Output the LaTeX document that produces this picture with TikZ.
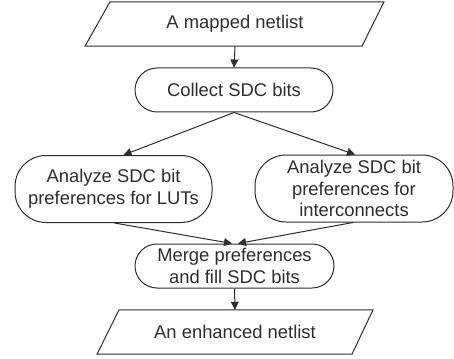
\documentclass[tikz,border=0pt]{standalone}
\usepackage{fontspec}
\setmainfont{Liberation Sans}
\usetikzlibrary{arrows.meta,calc}
\definecolor{ink}{gray}{0.18}
\tikzset{
  txt/.style={font=\fontsize{18.4}{21.7}\selectfont, text=ink, align=center, inner sep=0pt},
  stadium/.style={txt, draw=ink, line width=1pt, fill=white},
  conn/.style={draw=ink, line width=1pt, -{Triangle[length=8pt,width=8pt]}},
  shapeline/.style={draw=ink, line width=1pt}
}
\begin{document}
\begin{tikzpicture}[x=1pt,y=-1pt]
\useasboundingbox (0,0) rectangle (454,358);
% input parallelogram
\node[txt, minimum height=44pt, minimum width=200pt] (in) at (235,24) {A mapped netlist};
\draw[shapeline] ($(in.north)+(-125,0)$) -- ($(in.north)+(149,0)$) -- ($(in.south)+(127,0)$) -- ($(in.south)+(-150,0)$) -- cycle;
% collect
\node[stadium, minimum width=198pt, minimum height=44pt, rounded corners=22pt] (col) at (234,90) {Collect SDC bits};
% analyze boxes
\node[stadium, minimum width=197pt, minimum height=67pt, rounded corners=31pt] (lut) at (113.5,189) {Analyze SDC bit\\preferences for LUTs};
\node[stadium, minimum width=198pt, minimum height=67pt, rounded corners=31pt] (ic) at (354,188.5) {Analyze SDC bit\\preferences for\\interconnects};
% merge
\node[stadium, minimum width=199pt, minimum height=44pt, rounded corners=22pt] (mrg) at (234.5,266) {Merge preferences\\and fill SDC bits};
% output parallelogram
\node[txt, minimum height=44pt, minimum width=200pt] (out) at (235,332) {An enhanced netlist};
\draw[shapeline] ($(out.north)+(-116,0)$) -- ($(out.north)+(138,0)$) -- ($(out.south)+(117,0)$) -- ($(out.south)+(-138,0)$) -- cycle;
% connectors
\draw[conn] (in.south) -- (col.north);
\draw[conn] (col.south) -- ([xshift=10pt]lut.north);
\draw[conn] (col.south) -- ([xshift=1pt]ic.north);
\draw[conn] ([xshift=1pt]lut.south) -- ([xshift=-2.5pt]mrg.north);
\draw[conn] ([xshift=-1pt]ic.south) -- ([xshift=3.5pt]mrg.north);
\draw[conn] (mrg.south) -- (out.north);
\end{tikzpicture}
\end{document}
